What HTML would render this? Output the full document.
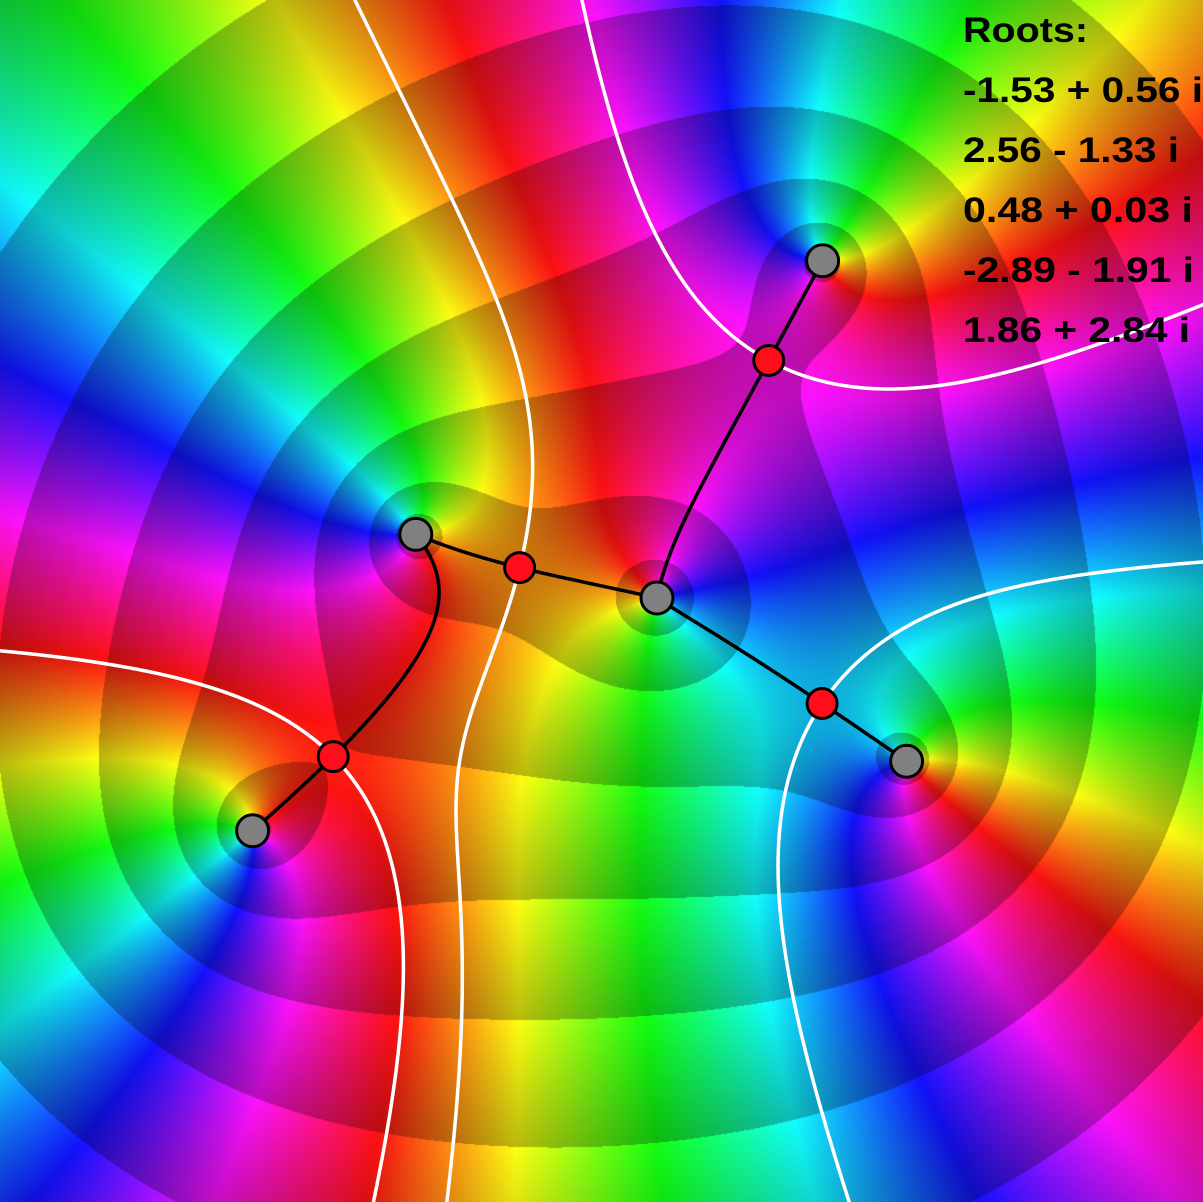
<!DOCTYPE html>
<html><head><meta charset="utf-8"><title>Polynomial domain coloring</title>
<style>
html,body{margin:0;padding:0;background:#000;width:1203px;height:1202px;overflow:hidden;}
#wrap{position:relative;width:1203px;height:1202px;overflow:hidden;}
canvas,svg{position:absolute;left:0;top:0;display:block;}
svg{overflow:hidden;}
text{font-family:"Liberation Sans",sans-serif;font-weight:bold;font-size:35px;fill:#000;}
</style></head>
<body>
<div id="wrap">
<canvas id="cv" width="1203" height="1202"></canvas>
<svg id="sv" width="1203" height="1202" viewBox="0 0 1203 1202">
<g id="white-curves"></g>
<g id="black-curves"></g>
<g id="crit-g"></g>
<g id="root-g"></g>
<g id="legend"></g>
</svg>
</div>
<script>
// data
const rootRe = [-1.53, 2.56, 0.48, -2.89, 1.86];
const rootIm = [0.56, -1.33, 0.03, -1.91, 2.84];
const legendTitle = "Roots:";

// axis mapping (view)
const W = 1203, H = 1202, CX = 599.4, CY = 601.6, S = 120;
function px(re){return CX + S*re;}
function py(im){return CY - S*im;}

const n = rootRe.length;
function fval(x,y){
  let a=1,b=0;
  for(let k=0;k<n;k++){const u=x-rootRe[k], v=y-rootIm[k]; const t=a*u-b*v; b=a*v+b*u; a=t;}
  return [a,b];
}
let coef=[[1,0]];
for(let k=0;k<n;k++){
  const r=[rootRe[k],rootIm[k]]; const nc=[];
  for(let i=0;i<=coef.length;i++) nc.push([0,0]);
  for(let i=0;i<coef.length;i++){
    nc[i+1][0]+=coef[i][0]; nc[i+1][1]+=coef[i][1];
    nc[i][0]-=coef[i][0]*r[0]-coef[i][1]*r[1]; nc[i][1]-=coef[i][0]*r[1]+coef[i][1]*r[0];
  }
  coef=nc;
}
const d1=[],d2=[];
for(let i=1;i<coef.length;i++) d1.push([coef[i][0]*i,coef[i][1]*i]);
for(let i=1;i<d1.length;i++) d2.push([d1[i][0]*i,d1[i][1]*i]);
function cmul(a,b){return [a[0]*b[0]-a[1]*b[1],a[0]*b[1]+a[1]*b[0]];}
function cdiv(a,b){const d=b[0]*b[0]+b[1]*b[1];return [(a[0]*b[0]+a[1]*b[1])/d,(a[1]*b[0]-a[0]*b[1])/d];}
function peval(c,z){let r=[0,0];for(let i=c.length-1;i>=0;i--){r=cmul(r,z);r[0]+=c[i][0];r[1]+=c[i][1];}return r;}
function csqrt(a){const m=Math.hypot(a[0],a[1]);const ang=Math.atan2(a[1],a[0])/2;return [Math.sqrt(m)*Math.cos(ang),Math.sqrt(m)*Math.sin(ang)];}
const lead=d1[d1.length-1]; const mon=d1.map(c=>cdiv(c,lead));
let cr=[];for(let i=0;i<mon.length-1;i++){const t=[0.4,0.9];let p=[1,0];for(let j=0;j<i;j++)p=cmul(p,t);cr.push(p);}
for(let it=0;it<500;it++){
  for(let i=0;i<cr.length;i++){
    let den=[1,0];for(let j=0;j<cr.length;j++) if(j!==i) den=cmul(den,[cr[i][0]-cr[j][0],cr[i][1]-cr[j][1]]);
    const q=cdiv(peval(mon,cr[i]),den); cr[i]=[cr[i][0]-q[0],cr[i][1]-q[1]];
  }
}

const cv=document.getElementById('cv'),ctx=cv.getContext('2d');
const img=ctx.createImageData(W,H);const D=img.data;
function hsv(h,s,v){const i=Math.floor(h*6)%6,f=h*6-Math.floor(h*6);const p=v*(1-s),q=v*(1-f*s),t=v*(1-(1-f)*s);
  switch(i){case 0:return[v,t,p];case 1:return[q,v,p];case 2:return[p,v,t];case 3:return[p,q,v];case 4:return[t,p,v];default:return[v,p,q];}}
for(let j=0;j<H;j++){const y=(CY-j)/S;
  for(let i=0;i<W;i++){const x=(i-CX)/S;const f=fval(x,y);
    let h=Math.atan2(f[1],f[0])/(2*Math.PI)+0.5; h=h-Math.floor(h);
    const lm=Math.log(Math.hypot(f[0],f[1])+1e-300); const fr=lm-Math.floor(lm);
    const v=1-0.27*fr; const c=hsv(h,0.93,v); const o=4*(j*W+i);
    D[o]=c[0]*255;D[o+1]=c[1]*255;D[o+2]=c[2]*255;D[o+3]=255;}}
ctx.putImageData(img,0,0);

const NS="http://www.w3.org/2000/svg";
function inView(z){return z[0]>-5.2&&z[0]<5.2&&z[1]>-5.2&&z[1]<5.2;}
function trace(z0,sign){
  let z=z0.slice();const pts=[[px(z[0]),py(z[1])]];
  for(let s=0;s<6000;s++){
    const q=cdiv(peval(coef,z),peval(d1,z));const m=Math.hypot(q[0],q[1]);if(!(m>0))break;
    const h=0.004;z=[z[0]+sign*h*q[0]/m,z[1]+sign*h*q[1]/m];
    pts.push([px(z[0]),py(z[1])]);
    if(sign<0){let hit=-1;for(let k=0;k<n;k++)if(Math.hypot(z[0]-rootRe[k],z[1]-rootIm[k])<0.01)hit=k;
      if(hit>=0){pts.push([px(rootRe[hit]),py(rootIm[hit])]);break;}}
    else if(!inView(z))break;
  }
  return pts;
}
const wg=document.getElementById('white-curves'),bg=document.getElementById('black-curves');
cr.forEach((c,ci)=>{
  const fc=peval(coef,c),f2=peval(d2,c);
  const up=csqrt(cdiv(fc,f2)),dn=csqrt(cdiv([-fc[0],-fc[1]],f2));
  const un=Math.hypot(up[0],up[1]),dm=Math.hypot(dn[0],dn[1]);
  [1,-1].forEach(sg=>{
    const e=0.006;
    const a=trace([c[0]+sg*e*up[0]/un,c[1]+sg*e*up[1]/un],1);
    a.unshift([px(c[0]),py(c[1])]);
    const p=document.createElementNS(NS,'polyline');
    p.setAttribute('points',a.map(t=>t[0].toFixed(1)+','+t[1].toFixed(1)).join(' '));
    p.setAttribute('fill','none');p.setAttribute('stroke','#fff');p.setAttribute('stroke-width','3.5');
    
    
    wg.appendChild(p);
    const b=trace([c[0]+sg*e*dn[0]/dm,c[1]+sg*e*dn[1]/dm],-1);
    b.unshift([px(c[0]),py(c[1])]);
    const q=document.createElementNS(NS,'polyline');
    q.setAttribute('points',b.map(t=>t[0].toFixed(1)+','+t[1].toFixed(1)).join(' '));
    q.setAttribute('fill','none');q.setAttribute('stroke','#000');q.setAttribute('stroke-width','3.5');
    
    
    bg.appendChild(q);
  });
});
const cg=document.getElementById('crit-g');
cr.forEach(c=>{const e=document.createElementNS(NS,'circle');
  e.setAttribute('cx',px(c[0]));e.setAttribute('cy',py(c[1]));e.setAttribute('r','15');
  e.setAttribute('fill','#ff0d1a');e.setAttribute('stroke','#000');e.setAttribute('stroke-width','3');
  
  
  cg.appendChild(e);});
const rg=document.getElementById('root-g');
for(let k=0;k<n;k++){const e=document.createElementNS(NS,'circle');
  e.setAttribute('cx',px(rootRe[k]));e.setAttribute('cy',py(rootIm[k]));e.setAttribute('r','16');
  e.setAttribute('fill','#808080');e.setAttribute('stroke','#000');e.setAttribute('stroke-width','3');
  
  
  rg.appendChild(e);}
const lg=document.getElementById('legend');
function fmt(re,im){return re.toFixed(2)+(im<0?' - ':' + ')+Math.abs(im).toFixed(2)+' i';}
const lines=[legendTitle];for(let k=0;k<n;k++)lines.push(fmt(rootRe[k],rootIm[k]));
const lens=[125,240,216,230,231,227];
lines.forEach((s,i)=>{const t=document.createElementNS(NS,'text');
  t.setAttribute('x','963');t.setAttribute('y',String(42+60*i));
  t.setAttribute('textLength',String(lens[i]));t.setAttribute('lengthAdjust','spacingAndGlyphs');
  t.textContent=s;
  
  
  lg.appendChild(t);});
</script>
</body></html>
